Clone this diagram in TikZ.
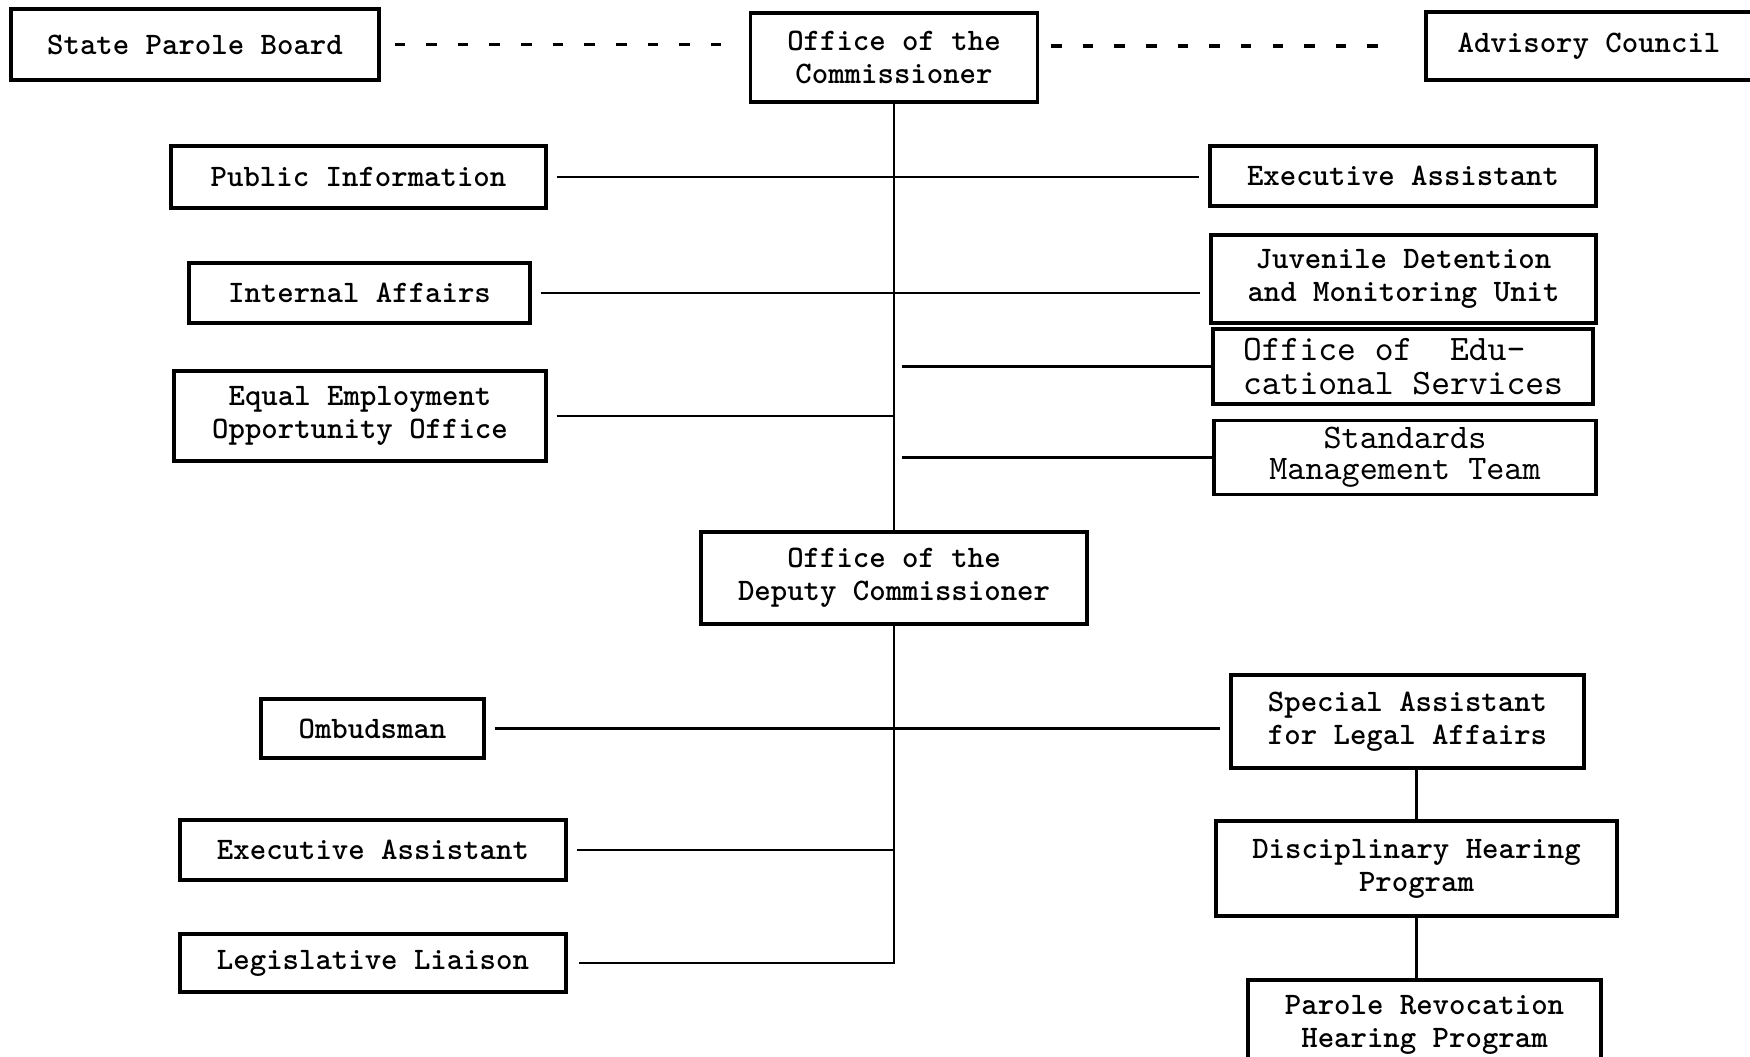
\documentclass[tikz,border=0pt]{standalone}
\usetikzlibrary{calc}
\begin{document}
\begin{tikzpicture}
[boxDecorate/.style={shape=rectangle,draw,line width=0.9pt,inner sep=2pt,align=center,
   font=\fontsize{8.9}{9.4}\selectfont\ttfamily\bfseries},
 wideDecorate/.style={boxDecorate,font=\fontsize{10.2}{9.7}\selectfont\ttfamily},
 lineDecorate/.style={-,line width=0.8pt},
 spineDecorate/.style={-,line width=0.6pt},
 dashDecorate/.style={-,line width=0.9pt,dash pattern=on 3pt off 6pt}]
\useasboundingbox (0,0) rectangle (17.5,-10.57);
%% nodes: top row
\node (spb)  at (1.95,-0.445)  [boxDecorate,minimum width=3.68cm,minimum height=0.71cm] {State Parole Board};
\node (comm) at (8.94,-0.575)  [boxDecorate,minimum width=2.87cm,minimum height=0.89cm] {Office of the\\Commissioner};
\node (adv)  at (15.89,-0.46)  [boxDecorate,minimum width=3.26cm,minimum height=0.68cm] {Advisory Council};
%% nodes: staff of the commissioner
\node (pub)  at (3.585,-1.77)  [boxDecorate,minimum width=3.75cm,minimum height=0.62cm] {Public Information};
\node (ia)   at (3.595,-2.93)  [boxDecorate,minimum width=3.41cm,minimum height=0.60cm] {Internal Affairs};
\node (eeo)  at (3.60,-4.16)   [boxDecorate,minimum width=3.72cm,minimum height=0.90cm] {Equal Employment\\Opportunity Office};
\node (exeA) at (14.03,-1.76)  [boxDecorate,minimum width=3.86cm,minimum height=0.60cm] {Executive Assistant};
\node (juv)  at (14.035,-2.79) [boxDecorate,minimum width=3.85cm,minimum height=0.88cm] {Juvenile Detention\\and Monitoring Unit};
\node (edu)  at (14.03,-3.665) [wideDecorate,align=left,minimum width=3.80cm,minimum height=0.75cm] {Office of\ \ Edu-\\cational Services};
\node (std)  at (14.05,-4.575) [wideDecorate,font=\fontsize{9.8}{8.8}\selectfont\ttfamily,minimum width=3.82cm,minimum height=0.73cm] {Standards\\Management Team};
%% nodes: deputy and staff
\node (dep)  at (8.94,-5.78)   [boxDecorate,minimum width=3.86cm,minimum height=0.92cm] {Office of the\\Deputy Commissioner};
\node (omb)  at (3.725,-7.285) [boxDecorate,minimum width=2.23cm,minimum height=0.59cm] {Ombudsman};
\node (exeB) at (3.73,-8.50)   [boxDecorate,minimum width=3.86cm,minimum height=0.60cm] {Executive Assistant};
\node (leg)  at (3.73,-9.63)   [boxDecorate,minimum width=3.86cm,minimum height=0.58cm] {Legislative Liaison};
\node (spec) at (14.075,-7.215)[boxDecorate,minimum width=3.53cm,minimum height=0.93cm] {Special Assistant\\for Legal Affairs};
\node (disc) at (14.165,-8.685)[boxDecorate,minimum width=4.01cm,minimum height=0.95cm] {Disciplinary Hearing\\Program};
\node (par)  at (14.245,-10.25)[boxDecorate,minimum width=3.53cm,minimum height=0.90cm] {Parole Revocation\\Hearing Program};
%% edges or lines
\draw[dashDecorate,shorten <=1.4mm,shorten >=1.9mm] (spb.east) -- (spb.east -| comm.west);
\draw[dashDecorate,shorten <=1.2mm,shorten >=3.7mm] (adv.west -| comm.east) -- (adv.west);
\draw[spineDecorate] (comm.south) -- (dep.north);
\draw[spineDecorate,shorten >=1.1mm] (dep.south) |- (leg.east);
\foreach \a/\b in {pub/exeA, ia/juv, omb/spec}
  \draw[lineDecorate,shorten <=0.9mm,shorten >=0.9mm] (\a.east) -- (\a.east -| \b.west);
\foreach \a in {eeo, exeB}
  \draw[lineDecorate,shorten <=0.9mm] (\a.east) -- (\a.east -| comm.south);
\foreach \a in {edu, std}
  \draw[lineDecorate,shorten >=0.8mm] (\a.west) -- (\a.west -| comm.south);
\draw[spineDecorate] (disc.north) -- (disc.north |- spec.south);
\draw[spineDecorate] (disc.south) -- (disc.south |- par.north);
\end{tikzpicture}
\end{document}
